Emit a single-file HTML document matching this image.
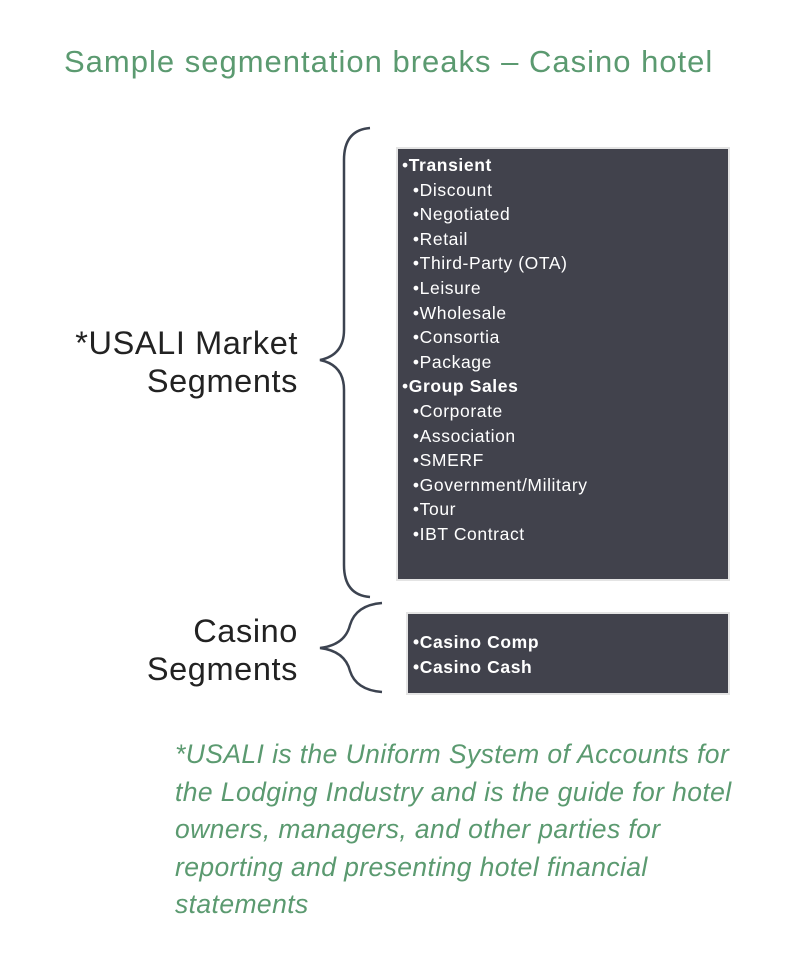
<!DOCTYPE html>
<html><head><style>
body{margin:0;width:807px;height:965px;background:#fff;position:relative;font-family:"Liberation Sans",sans-serif;overflow:hidden}
.a{position:absolute;white-space:nowrap}
.title{left:64px;top:44px;font-size:31px;color:#5b9a70;letter-spacing:1px}
.lab{right:509px;font-size:32.5px;color:#222;text-align:right;line-height:38px;letter-spacing:0.6px}
.box{position:absolute;background:#41424c;border:2px solid #e4e4e4}
.li{position:absolute;color:#fff;font-size:17.5px;line-height:24.6px;white-space:nowrap;letter-spacing:0.6px}
.foot{left:175px;top:736px;font-size:26.5px;font-style:italic;color:#5b9a70;line-height:37.5px;letter-spacing:0.4px}
</style></head><body>
<div class="a title">Sample segmentation breaks – Casino hotel</div>
<div class="a lab" style="top:324px">*USALI Market<br>Segments</div>
<div class="a lab" style="top:612px">Casino<br>Segments</div>
<svg class="a" style="left:0;top:0" width="807" height="965">
<path d="M370 128 Q344 130 344 160 L344 330 Q344 355 320 360 Q344 365 344 390 L344 565 Q344 595 370 597" fill="none" stroke="#3c4350" stroke-width="2.5"/>
<path d="M382 603 Q356 605 350 625 Q345 645 320 648 Q345 651 350 671 Q356 690 382 692" fill="none" stroke="#3c4350" stroke-width="2.5"/>
</svg>
<div class="box" style="left:396px;top:147px;width:330px;height:430px"></div>
<div class="li" style="left:402px;top:153px">•<b>Transient</b><br>
&nbsp;&nbsp;•Discount<br>&nbsp;&nbsp;•Negotiated<br>&nbsp;&nbsp;•Retail<br>&nbsp;&nbsp;•Third-Party (OTA)<br>&nbsp;&nbsp;•Leisure<br>&nbsp;&nbsp;•Wholesale<br>&nbsp;&nbsp;•Consortia<br>&nbsp;&nbsp;•Package<br>
•<b>Group Sales</b><br>
&nbsp;&nbsp;•Corporate<br>&nbsp;&nbsp;•Association<br>&nbsp;&nbsp;•SMERF<br>&nbsp;&nbsp;•Government/Military<br>&nbsp;&nbsp;•Tour<br>&nbsp;&nbsp;•IBT Contract</div>
<div class="box" style="left:406px;top:612px;width:320px;height:79px"></div>
<div class="li" style="left:413px;top:630px;font-weight:bold">•Casino Comp<br>•Casino Cash</div>
<div class="a foot">*USALI is the Uniform System of Accounts for<br>the Lodging Industry and is the guide for hotel<br>owners, managers, and other parties for<br>reporting and presenting hotel financial<br>statements</div>
</body></html>
